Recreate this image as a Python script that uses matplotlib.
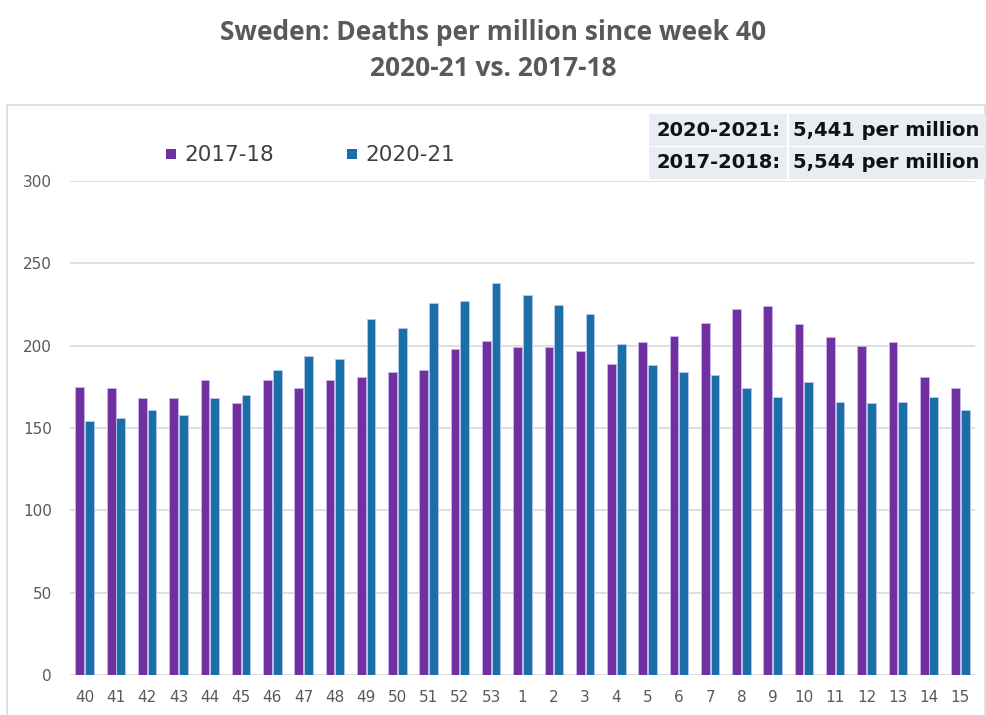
import matplotlib
matplotlib.use("Agg")
import matplotlib.pyplot as plt
from matplotlib.patches import Rectangle
import numpy as np

weeks = ["40", "41", "42", "43", "44", "45", "46", "47", "48", "49", "50", "51", "52", "53",
         "1", "2", "3", "4", "5", "6", "7", "8", "9", "10", "11", "12", "13", "14", "15"]
s1718 = [175, 174, 168, 168, 179, 165, 179, 174, 179, 181, 184, 185, 198, 203,
         199, 199, 197, 189, 202, 206, 214, 222, 224, 213, 205, 200, 202, 181, 174]
s2021 = [154, 156, 161, 158, 168, 170, 185, 194, 192, 216, 211, 226, 227, 238,
         231, 225, 219, 201, 188, 184, 182, 174, 169, 178, 166, 165, 166, 169, 161]
series_names = ["2017-18", "2020-21"]
yticks = [0, 50, 100, 150, 200, 250, 300]
title_lines = ["Sweden: Deaths per million since week 40", "2020-21 vs. 2017-18"]
box_rows = [("2020-2021:", "5,441 per million"), ("2017-2018:", "5,544 per million")]

purple = "#7030a0"
blue = "#1a70a6"
gray_txt = "#595959"

W, H = 986, 715
fig = plt.figure(figsize=(W / 100, H / 100), dpi=100)

def fx(px):
    return px / W

def fy(py):
    return 1 - py / H

# outer chart frame
fig.patches.append(Rectangle((fx(7), fy(720)), fx(985) - fx(7), fy(105) - fy(720),
                             transform=fig.transFigure, facecolor="none",
                             edgecolor="#d9d9d9", lw=1.2))

ax = fig.add_axes([fx(70), fy(675), fx(975) - fx(70), fy(181) - fy(675)])
x = np.arange(len(weeks))
bw = 0.28
off = 0.155
ax.bar(x - off, s1718, width=bw, color=purple, edgecolor="#c7b5f0", linewidth=0.6, zorder=3)
ax.bar(x + off, s2021, width=bw, color=blue, edgecolor="#b9c8f0", linewidth=0.6, zorder=3)
ax.set_xlim(-0.47, len(weeks) - 0.53)
ax.set_ylim(0, 300)
ax.set_yticks(yticks)
ax.set_xticks(x)
ax.set_xticklabels(weeks)
ax.grid(axis="y", color="#d9d9d9", lw=1.2, zorder=0)
ax.set_axisbelow(True)
for sp in ax.spines.values():
    sp.set_visible(False)
ax.tick_params(axis="both", length=0, labelcolor=gray_txt, labelsize=11)
ax.tick_params(axis="y", pad=13)
ax.tick_params(axis="x", pad=11)

# Title
fig.text(0.5, fy(32), title_lines[0], ha="center", va="center", fontsize=19,
         fontweight="bold", color=gray_txt, family="Open Sans")
fig.text(0.5, fy(68), title_lines[1], ha="center", va="center", fontsize=19,
         fontweight="bold", color=gray_txt, family="Open Sans")

# Legend (manual)
leg_sq_x = [166, 347]
for i, (name, col) in enumerate(zip(series_names, [purple, blue])):
    fig.patches.append(Rectangle((fx(leg_sq_x[i]), fy(159)), 10 / W, 10 / H,
                                 transform=fig.transFigure, facecolor=col, edgecolor="none"))
    fig.text(fx(leg_sq_x[i] + 18), fy(155), name, ha="left", va="center",
             fontsize=15.5, color="#404040")

# Summary box
row_tops = [114, 147]
row_h = 32
for i, (lab, val) in enumerate(box_rows):
    top = row_tops[i]
    fig.patches.append(Rectangle((fx(649), fy(top + row_h)), fx(787) - fx(649), row_h / H,
                                 transform=fig.transFigure, facecolor="#e8ecf3", edgecolor="none"))
    fig.patches.append(Rectangle((fx(789), fy(top + row_h)), fx(986) - fx(789), row_h / H,
                                 transform=fig.transFigure, facecolor="#e8ecf3", edgecolor="none"))
    fig.text(fx(657), fy(top + row_h / 2), lab, ha="left", va="center", fontsize=14,
             fontweight="bold", color="#111111")
    fig.text(fx(793), fy(top + row_h / 2), val, ha="left", va="center", fontsize=14,
             fontweight="bold", color="#111111")

fig.savefig("out.png", dpi=100)
